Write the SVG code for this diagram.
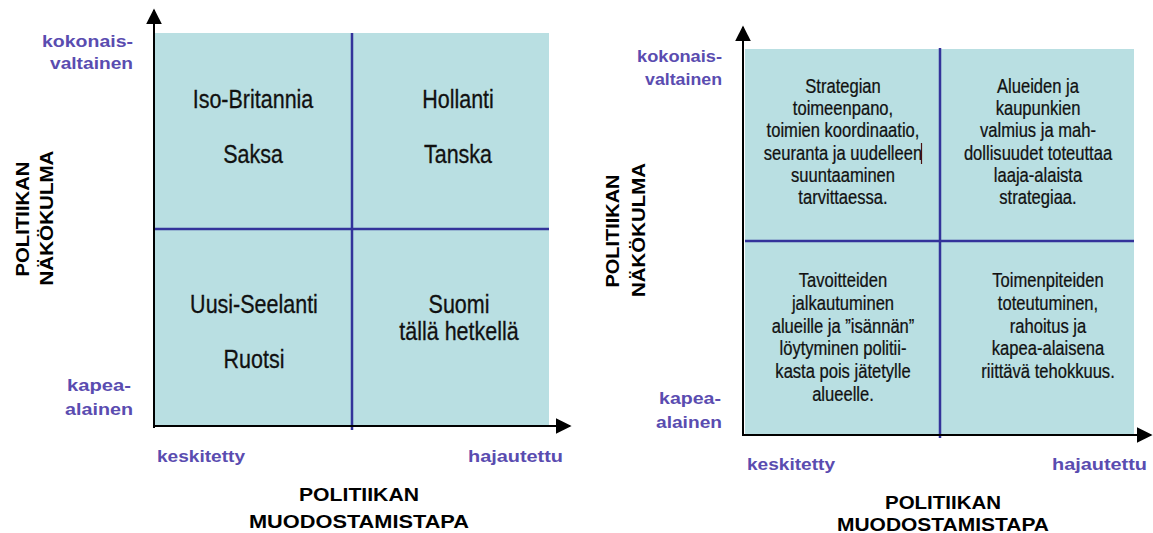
<svg xmlns="http://www.w3.org/2000/svg" width="1153" height="533" viewBox="0 0 1153 533">
<style>
.bg{fill:#ffffff}
.quad{fill:#b9dfe2}
.div{stroke:#33339a;stroke-width:2.5;fill:none}
.axis{stroke:#000;stroke-width:2;fill:none}
.lab{font-family:"Liberation Sans",Arial,sans-serif;font-weight:bold;font-size:17px;fill:#5a4cb0}
.ttl{font-family:"Liberation Sans",Arial,sans-serif;font-weight:bold;font-size:19px;fill:#000}
.big{font-family:"Liberation Sans",Arial,sans-serif;font-size:25px;fill:#111;text-anchor:middle;stroke:#111;stroke-width:0.3}
.q{font-family:"Liberation Sans",Arial,sans-serif;font-size:19.5px;fill:#111;text-anchor:middle;stroke:#111;stroke-width:0.25}
.end{text-anchor:end}
.mid{text-anchor:middle}
</style>
<defs>
<marker id="arr" viewBox="0 0 10 10" refX="9" refY="5" markerWidth="8" markerHeight="8" markerUnits="strokeWidth" orient="auto">
<path d="M0,0 L10,5 L0,10 z" fill="#000"/>
</marker>
</defs>
<rect class="bg" x="0" y="0" width="1153" height="533"/>

<!-- LEFT CHART -->
<g id="left-chart">
<rect class="quad" x="155" y="33" width="394" height="394"/>
<g id="left-dividers">
<line class="div" x1="352" y1="33" x2="352" y2="430"/>
<line class="div" x1="155" y1="229" x2="549" y2="229"/>
</g>
<g id="left-axes">
<line class="axis" x1="154" y1="428" x2="154" y2="10" marker-end="url(#arr)"/>
<line class="axis" x1="153" y1="426" x2="570" y2="426" marker-end="url(#arr)"/>
</g>
<g id="l-q1" transform="translate(253,0) scale(0.86,1)"><text class="big" x="0" y="108">Iso-Britannia</text><text class="big" x="0" y="163">Saksa</text></g>
<g id="l-q2" transform="translate(458,0) scale(0.86,1)"><text class="big" x="0" y="108">Hollanti</text><text class="big" x="0" y="163">Tanska</text></g>
<g id="l-q3" transform="translate(254,0) scale(0.86,1)"><text class="big" x="0" y="313">Uusi-Seelanti</text><text class="big" x="0" y="368">Ruotsi</text></g>
<g id="l-q4" transform="translate(459,0) scale(0.86,1)"><text class="big" x="0" y="313">Suomi</text><text class="big" x="0" y="340">tällä hetkellä</text></g>
<g id="l-labels">
<text class="lab end" x="133" y="47" textLength="91" lengthAdjust="spacingAndGlyphs">kokonais-</text>
<text class="lab end" x="133" y="69" textLength="83" lengthAdjust="spacingAndGlyphs">valtainen</text>
<text class="lab end" x="131" y="391" textLength="64" lengthAdjust="spacingAndGlyphs">kapea-</text>
<text class="lab end" x="133" y="415" textLength="68" lengthAdjust="spacingAndGlyphs">alainen</text>
<text class="lab" x="157" y="462" textLength="88" lengthAdjust="spacingAndGlyphs">keskitetty</text>
<text class="lab end" x="563" y="462" textLength="95" lengthAdjust="spacingAndGlyphs">hajautettu</text>
</g>
<g id="l-titles">
<text class="ttl mid" x="359" y="501" textLength="120" lengthAdjust="spacingAndGlyphs">POLITIIKAN</text>
<text class="ttl mid" x="359" y="528" textLength="220" lengthAdjust="spacingAndGlyphs">MUODOSTAMISTAPA</text>
<text class="ttl mid" transform="translate(29,219) rotate(-90)" textLength="115" lengthAdjust="spacingAndGlyphs">POLITIIKAN</text>
<text class="ttl mid" transform="translate(53,218) rotate(-90)" textLength="135" lengthAdjust="spacingAndGlyphs">NÄKÖKULMA</text>
</g>
</g>

<!-- RIGHT CHART -->
<g id="right-chart">
<rect class="quad" x="745" y="49" width="389" height="386"/>
<g id="right-dividers">
<line class="div" x1="940" y1="48" x2="940" y2="438"/>
<line class="div" x1="745" y1="241" x2="1134" y2="241"/>
</g>
<g id="right-axes">
<line class="axis" x1="743" y1="436" x2="743" y2="27" marker-end="url(#arr)"/>
<line class="axis" x1="742" y1="435" x2="1151" y2="435" marker-end="url(#arr)"/>
</g>
<g id="r-q1">
<g transform="translate(843,0) scale(0.85,1)">
<text class="q" x="0" y="93">Strategian</text>
<text class="q" x="0" y="115">toimeenpano,</text>
<text class="q" x="0" y="137">toimien koordinaatio,</text>
<text class="q" x="0" y="160">seuranta ja uudelleen</text>
<text class="q" x="0" y="182">suuntaaminen</text>
<text class="q" x="0" y="204">tarvittaessa.</text>
</g>
<line x1="921.5" y1="143" x2="921.5" y2="164" stroke="#4a1010" stroke-width="1.2"/>
</g>
<g id="r-q2" transform="translate(1038,0) scale(0.85,1)">
<text class="q" x="0" y="93">Alueiden ja</text>
<text class="q" x="0" y="115">kaupunkien</text>
<text class="q" x="0" y="137">valmius ja mah-</text>
<text class="q" x="0" y="160">dollisuudet toteuttaa</text>
<text class="q" x="0" y="182">laaja-alaista</text>
<text class="q" x="0" y="204">strategiaa.</text>
</g>
<g id="r-q3" transform="translate(843,0) scale(0.85,1)">
<text class="q" x="0" y="287">Tavoitteiden</text>
<text class="q" x="0" y="310">jalkautuminen</text>
<text class="q" x="0" y="333">alueille ja ”isännän”</text>
<text class="q" x="0" y="355">löytyminen politii-</text>
<text class="q" x="0" y="378">kasta pois jätetylle</text>
<text class="q" x="0" y="401">alueelle.</text>
</g>
<g id="r-q4" transform="translate(1048,0) scale(0.85,1)">
<text class="q" x="0" y="287">Toimenpiteiden</text>
<text class="q" x="0" y="310">toteutuminen,</text>
<text class="q" x="0" y="333">rahoitus ja</text>
<text class="q" x="0" y="355">kapea-alaisena</text>
<text class="q" x="0" y="378">riittävä tehokkuus.</text>
</g>
<g id="r-labels">
<text class="lab end" x="722" y="62" textLength="85" lengthAdjust="spacingAndGlyphs">kokonais-</text>
<text class="lab end" x="722" y="85" textLength="77" lengthAdjust="spacingAndGlyphs">valtainen</text>
<text class="lab end" x="721" y="404" textLength="62" lengthAdjust="spacingAndGlyphs">kapea-</text>
<text class="lab end" x="722" y="428" textLength="66" lengthAdjust="spacingAndGlyphs">alainen</text>
<text class="lab" x="747" y="470" textLength="88" lengthAdjust="spacingAndGlyphs">keskitetty</text>
<text class="lab end" x="1147" y="470" textLength="95" lengthAdjust="spacingAndGlyphs">hajautettu</text>
</g>
<g id="r-titles">
<text class="ttl mid" x="943" y="509" textLength="116" lengthAdjust="spacingAndGlyphs">POLITIIKAN</text>
<text class="ttl mid" x="943" y="531" textLength="212" lengthAdjust="spacingAndGlyphs">MUODOSTAMISTAPA</text>
<text class="ttl mid" transform="translate(619,231) rotate(-90)" textLength="113" lengthAdjust="spacingAndGlyphs">POLITIIKAN</text>
<text class="ttl mid" transform="translate(645,230) rotate(-90)" textLength="134" lengthAdjust="spacingAndGlyphs">NÄKÖKULMA</text>
</g>
</g>
</svg>
